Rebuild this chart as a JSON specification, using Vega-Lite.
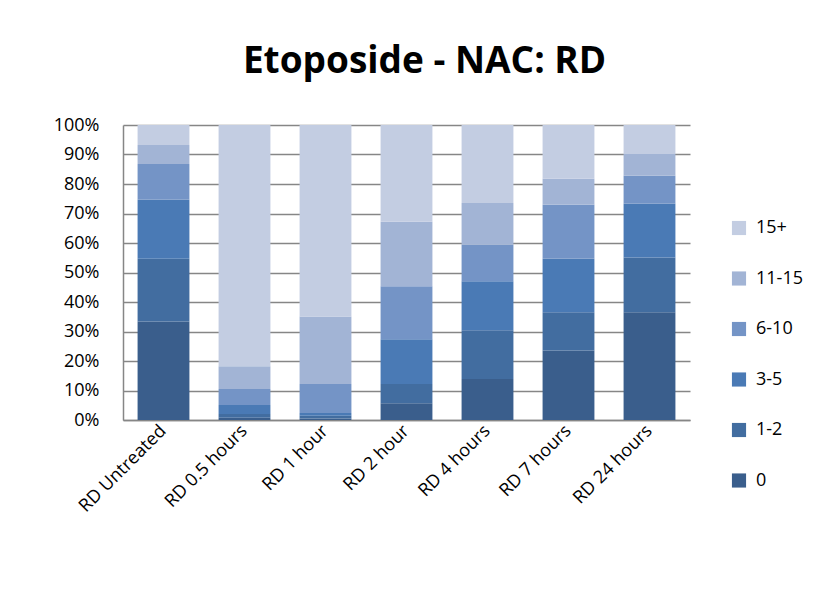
{
  "$schema": "https://vega.github.io/schema/vega-lite/v6.json",
  "width": 567,
  "height": 295,
  "autosize": "none",
  "padding": {"left": 123, "top": 125, "right": 140, "bottom": 187},
  "background": "white",
  "title": {
    "text": "Etoposide - NAC: RD",
    "font": "Open Sans",
    "fontSize": 37,
    "fontWeight": "bold",
    "color": "#000000",
    "anchor": "middle",
    "dx": 18,
    "offset": 35
  },
  "data": {
    "values": [
      {"t": "RD Untreated", "cat": "0", "lvl": 0, "v": 33.4},
      {"t": "RD Untreated", "cat": "1-2", "lvl": 1, "v": 21.3},
      {"t": "RD Untreated", "cat": "3-5", "lvl": 2, "v": 20.0},
      {"t": "RD Untreated", "cat": "6-10", "lvl": 3, "v": 12.1},
      {"t": "RD Untreated", "cat": "11-15", "lvl": 4, "v": 6.4},
      {"t": "RD Untreated", "cat": "15+", "lvl": 5, "v": 6.8},
      {"t": "RD 0.5 hours", "cat": "0", "lvl": 0, "v": 0.8},
      {"t": "RD 0.5 hours", "cat": "1-2", "lvl": 1, "v": 1.2},
      {"t": "RD 0.5 hours", "cat": "3-5", "lvl": 2, "v": 3.1},
      {"t": "RD 0.5 hours", "cat": "6-10", "lvl": 3, "v": 5.4},
      {"t": "RD 0.5 hours", "cat": "11-15", "lvl": 4, "v": 7.7},
      {"t": "RD 0.5 hours", "cat": "15+", "lvl": 5, "v": 81.8},
      {"t": "RD 1 hour", "cat": "0", "lvl": 0, "v": 0.5},
      {"t": "RD 1 hour", "cat": "1-2", "lvl": 1, "v": 0.9},
      {"t": "RD 1 hour", "cat": "3-5", "lvl": 2, "v": 1.0},
      {"t": "RD 1 hour", "cat": "6-10", "lvl": 3, "v": 9.8},
      {"t": "RD 1 hour", "cat": "11-15", "lvl": 4, "v": 22.9},
      {"t": "RD 1 hour", "cat": "15+", "lvl": 5, "v": 64.9},
      {"t": "RD 2 hour", "cat": "0", "lvl": 0, "v": 5.7},
      {"t": "RD 2 hour", "cat": "1-2", "lvl": 1, "v": 6.5},
      {"t": "RD 2 hour", "cat": "3-5", "lvl": 2, "v": 15.2},
      {"t": "RD 2 hour", "cat": "6-10", "lvl": 3, "v": 17.9},
      {"t": "RD 2 hour", "cat": "11-15", "lvl": 4, "v": 21.9},
      {"t": "RD 2 hour", "cat": "15+", "lvl": 5, "v": 32.8},
      {"t": "RD 4 hours", "cat": "0", "lvl": 0, "v": 13.9},
      {"t": "RD 4 hours", "cat": "1-2", "lvl": 1, "v": 16.5},
      {"t": "RD 4 hours", "cat": "3-5", "lvl": 2, "v": 16.6},
      {"t": "RD 4 hours", "cat": "6-10", "lvl": 3, "v": 12.5},
      {"t": "RD 4 hours", "cat": "11-15", "lvl": 4, "v": 14.1},
      {"t": "RD 4 hours", "cat": "15+", "lvl": 5, "v": 26.4},
      {"t": "RD 7 hours", "cat": "0", "lvl": 0, "v": 23.6},
      {"t": "RD 7 hours", "cat": "1-2", "lvl": 1, "v": 12.9},
      {"t": "RD 7 hours", "cat": "3-5", "lvl": 2, "v": 18.2},
      {"t": "RD 7 hours", "cat": "6-10", "lvl": 3, "v": 18.3},
      {"t": "RD 7 hours", "cat": "11-15", "lvl": 4, "v": 8.8},
      {"t": "RD 7 hours", "cat": "15+", "lvl": 5, "v": 18.2},
      {"t": "RD 24 hours", "cat": "0", "lvl": 0, "v": 36.5},
      {"t": "RD 24 hours", "cat": "1-2", "lvl": 1, "v": 18.6},
      {"t": "RD 24 hours", "cat": "3-5", "lvl": 2, "v": 18.2},
      {"t": "RD 24 hours", "cat": "6-10", "lvl": 3, "v": 9.5},
      {"t": "RD 24 hours", "cat": "11-15", "lvl": 4, "v": 7.4},
      {"t": "RD 24 hours", "cat": "15+", "lvl": 5, "v": 9.8}
    ]
  },
  "mark": {"type": "bar"},
  "encoding": {
    "x": {
      "field": "t",
      "type": "nominal",
      "sort": null,
      "scale": {"paddingInner": 0.36, "paddingOuter": 0.18},
      "axis": {
        "title": null,
        "labelAngle": -45,
        "labelAlign": "right",
        "labelBaseline": "middle",
        "labelFont": "Open Sans",
        "labelFontSize": 18,
        "labelColor": "#000000",
        "labelPadding": 8,
        "labelOverlap": false,
        "ticks": false,
        "domainColor": "#868686",
        "domainWidth": 1.5
      }
    },
    "y": {
      "field": "v",
      "type": "quantitative",
      "stack": "normalize",
      "scale": {"domain": [0, 1]},
      "axis": {
        "title": null,
        "format": ".0%",
        "values": [0, 0.1, 0.2, 0.3, 0.4, 0.5, 0.6, 0.7, 0.8, 0.9, 1],
        "labelOverlap": false,
        "labelFlush": false,
        "labelFont": "Open Sans",
        "labelFontSize": 18,
        "labelColor": "#000000",
        "labelPadding": 24,
        "ticks": false,
        "domainColor": "#868686",
        "domainWidth": 1.5,
        "grid": true,
        "gridColor": "#868686",
        "gridWidth": 1.5
      }
    },
    "color": {
      "field": "cat",
      "type": "nominal",
      "scale": {
        "domain": ["0", "1-2", "3-5", "6-10", "11-15", "15+"],
        "range": ["#3A5E8C", "#426DA0", "#4A7AB5", "#7494C6", "#A2B4D5", "#C3CDE2"]
      },
      "legend": {
        "title": null,
        "orient": "none",
        "legendX": 607,
        "legendY": 94,
        "values": ["15+", "11-15", "6-10", "3-5", "1-2", "0"],
        "symbolType": "square",
        "symbolSize": 200,
        "symbolStrokeWidth": 0,
        "rowPadding": 32.5,
        "labelFont": "Open Sans",
        "labelFontSize": 18,
        "labelColor": "#000000",
        "labelOffset": 8
      }
    },
    "order": {"field": "lvl", "type": "quantitative", "sort": "ascending"}
  },
  "config": {
    "view": {"stroke": null},
    "axis": {"labelOverlap": false}
  }
}
